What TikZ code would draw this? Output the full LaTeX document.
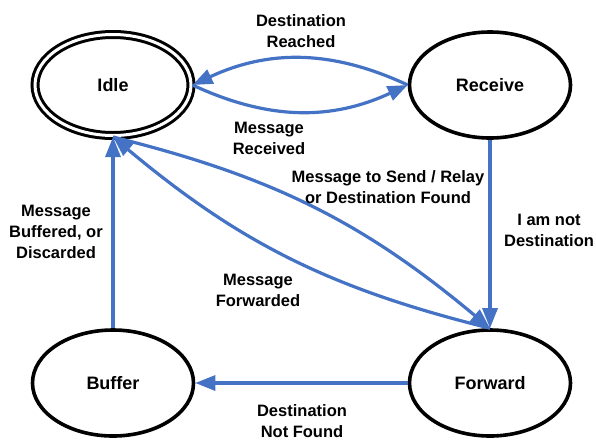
\documentclass[tikz,border=0pt]{standalone}
\usepackage{fontspec}
\setmainfont{Liberation Sans}
\usetikzlibrary{arrows.meta, shapes}
\definecolor{flowblue}{HTML}{4472C4}

\begin{document}
\begin{tikzpicture}[x = 1pt, y = -1pt]

\tikzset{
state/.style = {ellipse, draw, line width = 3.6pt, minimum width = 161pt,
	minimum height = 106pt, inner sep = 0pt, font = \fontsize{18}{20}\selectfont\bfseries},
idlestate/.style = {double, double distance = 3pt, line width = 3pt,
	minimum width = 156pt, minimum height = 101pt},
transition/.style = {draw = flowblue, line width = 3.2pt,
	-{Triangle[length = 20pt, width = 15pt]}},
edgetext/.style = {align = center, inner sep = 0pt,
	font = \fontsize{16.5}{21}\selectfont\bfseries},
}

\useasboundingbox (0, 0) rectangle (596, 440);

%% States
\node at (113, 85) [state, idlestate] (idle) {Idle};
\node at (490, 85) [state] (receive) {Receive};
\node at (113, 383) [state] (buffer) {Buffer};
\node at (490, 383) [state] (forward) {Forward};

%% Transitions
\draw [transition] (receive.west) to [bend right = 25] (idle.east);
\draw [transition] (idle.east) to [bend right = 25] (receive.west);
\draw [transition] (receive.south) -- (forward.north);
\draw [transition] (idle.south) to [bend left = 13] (forward.north);
\draw [transition] (forward.north) to [bend left = 13] (idle.south);
\draw [transition] (forward.west) -- (buffer.east);
\draw [transition] (buffer.north) -- (idle.south);

%% Labels
\node at (301, 31) [edgetext] (reached) {Destination\\Reached};
\node at (269, 138) [edgetext] (received) {Message\\Received};
\node at (388, 187) [edgetext] (tosend) {Message to Send / Relay\\or Destination Found};
\node at (549, 230) [edgetext] (notdest) {I am not\\Destination};
\node at (56, 232) [edgetext] (buffered) {Message\\Buffered, or\\Discarded};
\node at (258, 290) [edgetext] (forwarded) {Message\\Forwarded};
\node at (302, 421) [edgetext] (notfound) {Destination\\Not Found};

\end{tikzpicture}
\end{document}
